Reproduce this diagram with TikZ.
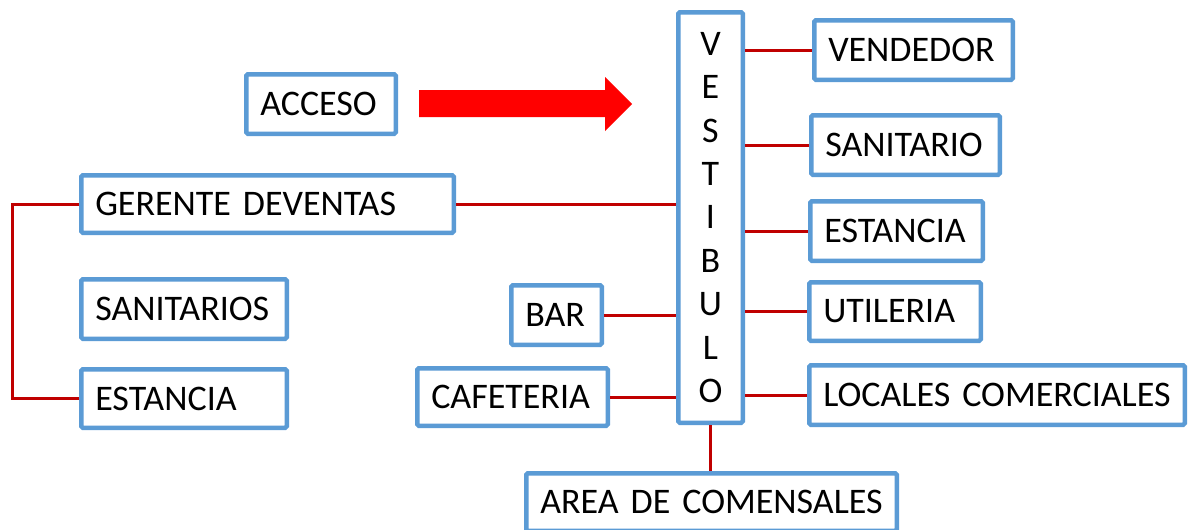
\documentclass[tikz,border=0pt]{standalone}
\usepackage{fontspec}
\setmainfont[WordSpace=0.8]{Carlito}
\usepackage{tikz}
\definecolor{azulcaja}{HTML}{5B9BD5}
\definecolor{rojolinea}{HTML}{C00000}
\tikzset{caja/.style={draw=azulcaja,line width=4.5pt,rounded corners=1.5pt,fill=white,inner xsep=14pt,inner ysep=0pt,align=left,minimum height=59.5pt,font=\fontsize{36}{42}\selectfont},
linea/.style={rojolinea,line width=3pt}}

\begin{document}
\begin{tikzpicture}[x=1pt,y=-1pt]
\useasboundingbox (0,0) rectangle (1189,530);
% flecha de acceso
\fill[red] (419,90) -- (605,90) -- (605,77) -- (632,104) -- (605,131) -- (605,117) -- (419,117) -- cycle;
\node[caja,text width=121.5pt] (acceso) at (321,104) {ACCESO};
\node[caja,inner xsep=0pt,align=center,minimum width=64.5pt,minimum height=410.5pt,font=\fontsize{36}{43.4}\selectfont] (vestibulo) at (710.5,217.5) {V\\E\\S\\T\\I\\B\\U\\L\\O};
% lado izquierdo
\node[caja,text width=344.5pt,minimum height=57.5pt] (gerente) at (267.5,204) {GERENTE~DEVENTAS};
\node[caja,text width=177.5pt] (sanitarios) at (184,309) {SANITARIOS};
\node[caja,text width=177.5pt,minimum height=58.5pt] (estanciaA) at (184,398.5) {ESTANCIA};
\node[caja,text width=62.5pt] (bar) at (556.5,315) {BAR};
\node[caja,text width=162.5pt,minimum height=57.5pt] (cafeteria) at (512.5,397) {CAFETERIA};
% lado derecho
\node[caja,text width=170.5pt] (vendedor) at (913.5,50) {VENDEDOR};
\node[caja,text width=160.5pt] (sanitario) at (905.5,145) {SANITARIO};
\node[caja,text width=144.5pt] (estanciaB) at (896.5,231) {ESTANCIA};
\node[caja,text width=143.5pt,minimum height=58.5pt] (utileria) at (895,311.5) {UTILERIA};
\node[caja,text width=347.5pt] (locales) at (997,395) {LOCALES~COMERCIALES};
\node[caja,text width=342.5pt,minimum height=57.5pt] (area) at (711.5,502) {AREA~DE~COMENSALES};
% conexiones
\coordinate (codo) at (12,0);
\draw[linea] (gerente.west) -- (gerente.west -| codo) |- (estanciaA.west);
\draw[linea] (gerente.east) -- (gerente.east -| vestibulo.west);
\draw[linea] (bar.east) -- (bar.east -| vestibulo.west);
\draw[linea] (cafeteria.east) -- (cafeteria.east -| vestibulo.west);
\draw[linea] (vestibulo.east |- vendedor.west) -- (vendedor.west);
\draw[linea] (vestibulo.east |- sanitario.west) -- (sanitario.west);
\draw[linea] (vestibulo.east |- estanciaB.west) -- (estanciaB.west);
\draw[linea] (vestibulo.east |- utileria.west) -- (utileria.west);
\draw[linea] (vestibulo.east |- locales.west) -- (locales.west);
\draw[linea] (vestibulo.south) -- (vestibulo.south |- area.north);
\end{tikzpicture}
\end{document}
